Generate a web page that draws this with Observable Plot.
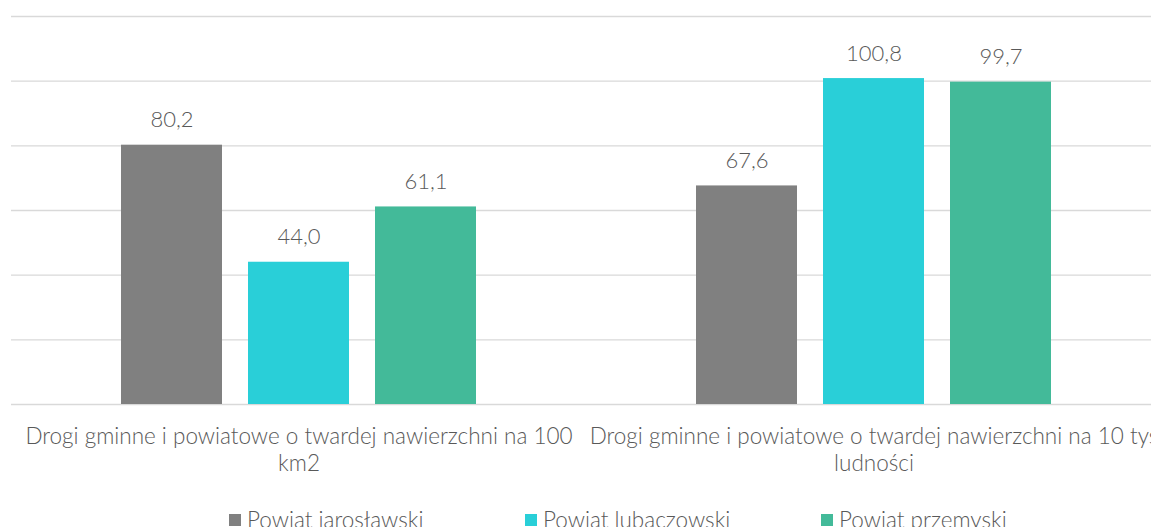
<!DOCTYPE html>
<html>
<head>
<meta charset="utf-8">
<script src="https://cdn.jsdelivr.net/npm/d3@7"></script>
<script src="https://cdn.jsdelivr.net/npm/@observablehq/plot@0.6"></script>
<style>
  html, body { margin: 0; padding: 0; background: #fff; overflow: hidden; }
  #chart { width: 1151px; }
  #legend { position: relative; width: 1151px; height: 37px; font-family: Lato, "Open Sans", sans-serif; font-weight: 300; font-size: 22.5px; color: #595959; }
  .item { position: absolute; top: 19px; line-height: 22px; white-space: nowrap; }
  .sw { position: absolute; top: 5px; left: 0; width: 12px; height: 12px; }
  .lbl { position: absolute; left: 18px; top: 0; }
</style>
</head>
<body>
<div id="chart"></div>
<script>
const categories = [
  "Drogi gminne i powiatowe o twardej nawierzchni na 100 km2",
  "Drogi gminne i powiatowe o twardej nawierzchni na 10 tys ludności"
];
const categoryLabels = [
  "Drogi gminne i powiatowe o twardej nawierzchni na 100\nkm2",
  "Drogi gminne i powiatowe o twardej nawierzchni na 10 tys\nludności"
];
const series = ["Powiat jarosławski", "Powiat lubaczowski", "Powiat przemyski"];
const colors = ["#808080", "#29CFD8", "#43BA99"];
const jaroslawski = [80.2, 67.6];
const lubaczowski = [44.0, 100.8];
const przemyski = [61.1, 99.7];
const gridTicks = [0, 20, 40, 60, 80, 100, 120];
const legendLeft = [229, 525, 821];

const valuesBySeries = [jaroslawski, lubaczowski, przemyski];
const data = [];
categories.forEach((c, ci) => {
  series.forEach((s, si) => {
    data.push({category: c, series: s, value: valuesBySeries[si][ci]});
  });
});

const fmt = d => d.toFixed(1).replace(".", ",");
const FONT = "Lato, 'Open Sans', sans-serif";

const chart = Plot.plot({
  width: 1151,
  height: 490,
  marginLeft: 10,
  marginRight: -10,
  marginTop: 16,
  marginBottom: 86,
  style: {fontFamily: FONT, fontWeight: 300, color: "#595959", background: "#fff"},
  fx: {domain: categories, padding: 0, label: null},
  x: {domain: series, paddingInner: 0.208, paddingOuter: 0.861, axis: null},
  y: {domain: [0, 120], axis: null},
  color: {domain: series, range: colors},
  marks: [
    Plot.ruleY(gridTicks, {stroke: "#d9d9d9", strokeWidth: 1.3}),
    Plot.barY(data, {fx: "category", x: "series", y: "value", fill: "series"}),
    Plot.text(data, {fx: "category", x: "series", y: "value", text: d => fmt(d.value),
      lineAnchor: "bottom", dy: -18, fontSize: 22, fill: "#595959", fontWeight: 300}),
    Plot.axisFx({anchor: "bottom", tickSize: 0, tickPadding: 20, fontSize: 22.5, lineHeight: 1.2,
      tickFormat: d => categoryLabels[categories.indexOf(d)], label: null, fill: "#595959", fontWeight: 300})
  ]
});
document.getElementById("chart").appendChild(chart);

const legend = document.createElement("div");
legend.id = "legend";
series.forEach((s, i) => {
  const item = document.createElement("div");
  item.className = "item";
  item.style.left = legendLeft[i] + "px";
  const sw = document.createElement("span");
  sw.className = "sw";
  sw.style.background = colors[i];
  const lbl = document.createElement("span");
  lbl.className = "lbl";
  lbl.textContent = s;
  item.appendChild(sw);
  item.appendChild(lbl);
  legend.appendChild(item);
});
document.body.appendChild(legend);
</script>
</body>
</html>
